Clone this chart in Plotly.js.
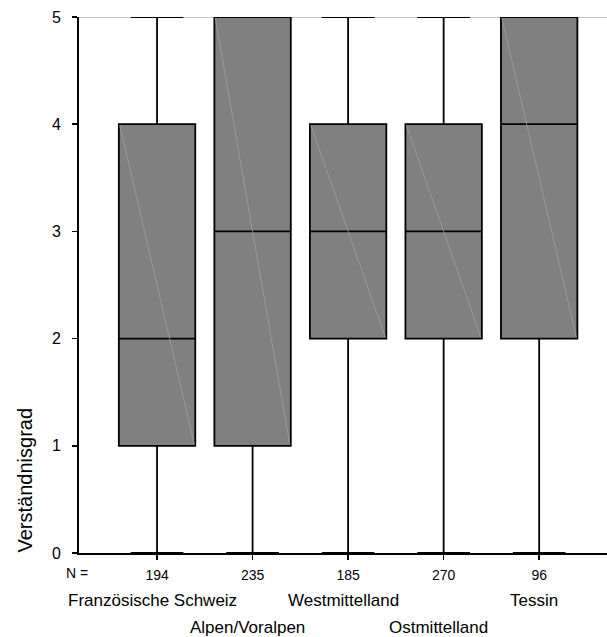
<!DOCTYPE html>
<html>
<head>
<meta charset="utf-8">
<script src="https://cdn.plot.ly/plotly-3.0.1.min.js"></script>
<style>
  html, body { margin: 0; padding: 0; background: #fff; }
  #chart { width: 607px; height: 637px; }
</style>
</head>
<body>
<div id="chart"></div>
<script>
// Regions and their sample sizes
const regions = ["Französische Schweiz", "Alpen/Voralpen", "Westmittelland", "Ostmittelland", "Tessin"];
const counts = [194, 235, 185, 270, 96];

// Five-number summaries of the comprehension score (0–5)
const lowerFence = [0, 0, 0, 0, 0];
const q1 = [1, 1, 2, 2, 2];
const median = [2, 3, 3, 3, 4];
const q3 = [4, 5, 4, 4, 5];
const upperFence = [5, 5, 5, 5, 5];

const positions = regions.map((_, i) => i);
const boxWidth = 0.8;
const FONT = "Liberation Sans, Arial, sans-serif";

const traces = [{
  type: "box",
  x: positions,
  q1: q1,
  median: median,
  q3: q3,
  lowerfence: lowerFence,
  upperfence: upperFence,
  width: boxWidth,
  whiskerwidth: 0.69,
  boxpoints: false,
  fillcolor: "#808080",
  line: { color: "#000000", width: 1.8 },
  hoverinfo: "skip",
  showlegend: false
}];

// faint corner-to-corner seam across each filled box
positions.forEach((p, i) => {
  traces.push({
    type: "scatter",
    mode: "lines",
    x: [p - boxWidth / 2 + 0.01, p + boxWidth / 2 - 0.01],
    y: [q3[i] - 0.01, q1[i] + 0.01],
    line: { color: "#a0a0a0", width: 0.8 },
    hoverinfo: "skip",
    showlegend: false
  });
});

const annotations = [];
// "N =" row label
annotations.push({
  text: "N =", xref: "paper", yref: "paper", x: 0, y: 0,
  xanchor: "center", yanchor: "middle", xshift: -2.5, yshift: -20,
  showarrow: false, font: { family: FONT, size: 14, color: "#000" }
});
// region names on two staggered rows
regions.forEach((name, i) => {
  annotations.push({
    text: name, xref: "x", yref: "paper", x: positions[i], y: 0,
    xanchor: "center", yanchor: "middle", xshift: -5,
    yshift: i % 2 === 0 ? -47 : -74,
    showarrow: false, font: { family: FONT, size: 17, color: "#000" }
  });
});
// y-axis title, set low along the axis
annotations.push({
  text: "Verständnisgrad", xref: "paper", yref: "y", x: 0, y: 0,
  xanchor: "center", yanchor: "bottom", xshift: -55, yshift: -2,
  textangle: -90, showarrow: false,
  font: { family: FONT, size: 20, color: "#000" }
});

const layout = {
  width: 607,
  height: 637,
  margin: { l: 79, r: 0, t: 17, b: 84 },
  paper_bgcolor: "#ffffff",
  plot_bgcolor: "#ffffff",
  showlegend: false,
  font: { family: FONT, color: "#000" },
  xaxis: {
    range: [-0.817, 4.71],
    tickvals: positions,
    ticktext: counts.map(String),
    showline: true, linecolor: "#000", linewidth: 2,
    ticks: "outside", ticklen: 5, tickwidth: 1.5, tickcolor: "#000",
    showgrid: false, zeroline: false,
    tickfont: { family: FONT, size: 14, color: "#000" },
    ticklabelstandoff: 3,
    fixedrange: true
  },
  yaxis: {
    range: [0, 5],
    tickvals: [0, 1, 2, 3, 4, 5],
    showline: true, linecolor: "#000", linewidth: 2,
    ticks: "outside", ticklen: 5, tickwidth: 1.5, tickcolor: "#000",
    showgrid: false, zeroline: false,
    tickfont: { family: FONT, size: 16, color: "#000" },
    ticklabelstandoff: 8,
    fixedrange: true
  },
  shapes: [{
    type: "line", xref: "paper", yref: "y", x0: 0, x1: 1, y0: 5, y1: 5,
    line: { color: "#8c8c8c", width: 1 }, layer: "below"
  }],
  annotations: annotations
};

Plotly.newPlot("chart", traces, layout, { displayModeBar: false, staticPlot: true });
</script>
</body>
</html>
